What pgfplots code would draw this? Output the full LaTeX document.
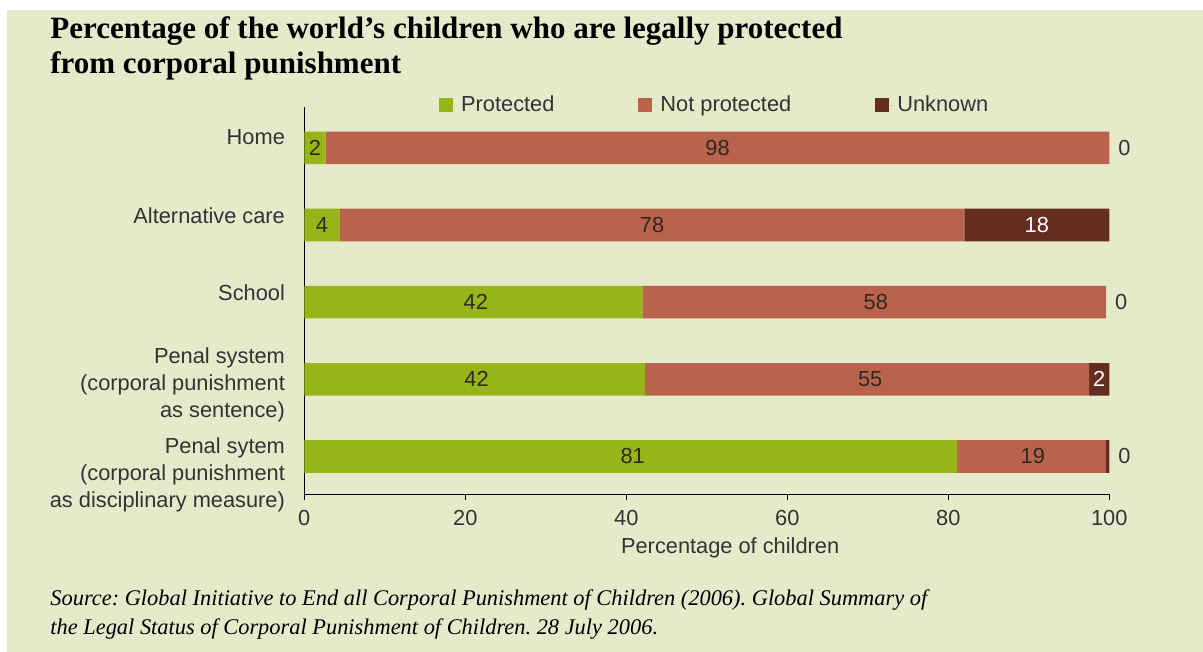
\documentclass[border=0pt]{standalone}
\usepackage{pgfplots}
\pgfplotsset{compat=1.18}
\usepackage{fontspec}
\setmainfont{Liberation Sans}
\newfontfamily\seriffont{Liberation Serif}
\frenchspacing

\definecolor{bg}{HTML}{E5EACB}
\definecolor{prot}{HTML}{97B418}
\definecolor{notprot}{HTML}{B9624C}
\definecolor{unkn}{HTML}{652C22}
\definecolor{txt}{HTML}{333333}
\definecolor{bartxt}{HTML}{2E2A20}

\newcommand{\lblfont}{\fontsize{10.9bp}{13.5bp}\selectfont}

\pgfplotsset{
  frame/.style={
    at={(152.15bp,78.85bp)}, anchor=south west,
    scale only axis, width=402.5bp, height=193.65bp,
    xmin=0, xmax=100, ymin=-0.49, ymax=4.53,
  },
  legsq/.style={legend image code/.code={\fill[##1] (0bp,-3.5bp) rectangle (7bp,3.5bp); \path (0bp,0bp) -- (9bp,0bp);}},
}

\begin{document}
\begin{tikzpicture}
\useasboundingbox (0,0) rectangle (601.5bp,326bp);
\fill[white] (0,0) rectangle (601.5bp,326bp);
\fill[bg] (3.5bp,0) rectangle (601.5bp,321bp);

% title
\node[anchor=base west, inner sep=0, font=\seriffont\bfseries\fontsize{15.5bp}{18bp}\selectfont]
  at (25bp,306.5bp) {Percentage of the world’s children who are legally protected};
\node[anchor=base west, inner sep=0, font=\seriffont\bfseries\fontsize{15.5bp}{18bp}\selectfont]
  at (25bp,289bp) {from corporal punishment};

\begin{axis}[
  frame,
  xbar stacked, bar width=16.3bp,
  axis lines*=left, axis line style={black, line width=0.6bp},
  xtick={0,20,...,100}, ytick={0,...,4},
  tick align=outside, major tick length=3bp,
  xtick style={black, line width=0.6bp},
  ytick style={draw=none},
  tick label style={font=\lblfont, text=txt},
  /pgf/number format/assume math mode=true,
  xticklabel style={inner sep=0pt, yshift=-5bp},
  yticklabel style={inner sep=0pt, anchor=east, xshift=-6.5bp},
  yticklabels={
    {\raisebox{-11.9bp}[0pt][0pt]{\begin{tabular}{@{}r@{}}Penal sytem\hspace{3.5bp}\\(corporal punishment\hspace{3.5bp}\\as disciplinary measure)\end{tabular}}},
    {\raisebox{-5.6bp}[0pt][0pt]{\begin{tabular}{@{}r@{}}Penal system\hspace{3.5bp}\\(corporal punishment\hspace{3.5bp}\\as sentence)\end{tabular}}},
    {\raisebox{1bp}[0pt][0pt]{School}},
    {\raisebox{0.75bp}[0pt][0pt]{Alternative care}},
    {\raisebox{1.75bp}[0pt][0pt]{Home}}
  },
  xlabel={Percentage of children},
  every axis x label/.style={at={(axis description cs:0.529,0)}, anchor=center, yshift=-27bp, font=\lblfont, text=txt},
  legend style={at={(0.511,1.005)}, anchor=center, draw=none, fill=none,
    legend columns=3, font=\lblfont, text=txt, inner sep=0pt,
    /tikz/every even column/.append style={column sep=40bp}},
]
% measured bar lengths, y: 4 = Home ... 0 = last penal row
\addplot[fill=prot, draw=none, legsq] coordinates {(81.1,0) (42.3,1) (42.0,2) (4.43,3) (2.66,4)};
\addlegendentry{Protected}
\addplot[fill=notprot, draw=none, legsq] coordinates {(18.4,0) (55.2,1) (57.6,2) (77.57,3) (97.34,4)};
\addlegendentry{Not protected}
\addplot[fill=unkn, draw=none, legsq] coordinates {(0.5,0) (2.5,1) (0,2) (18.0,3) (0,4)};
\addlegendentry{Unknown}
\end{axis}

% value labels
\begin{axis}[frame, hide axis, clip=false]
\addplot[only marks, mark=none, nodes near coords, point meta=explicit symbolic,
  every node near coord/.append style={anchor=center, font=\lblfont, text=bartxt}]
  coordinates {(1.33,4) [2] (51.33,4) [98]
               (2.2,3) [4] (43.2,3) [78]
               (21.3,2) [42] (71.0,2) [58]
               (21.4,1) [42] (70.3,1) [55]
               (40.8,0) [81] (90.5,0) [19]};
\addplot[only marks, mark=none, nodes near coords, point meta=explicit symbolic,
  every node near coord/.append style={anchor=center, font=\lblfont, text=white}]
  coordinates {(91.0,3) [18] (98.75,1) [2]};
\addplot[only marks, mark=none, nodes near coords, point meta=explicit symbolic,
  every node near coord/.append style={anchor=west, xshift=1bp, font=\lblfont, text=txt}]
  coordinates {(100,4) [0] (99.6,2) [0] (100,0) [0]};
\end{axis}

% source
\node[anchor=base west, inner sep=0, font=\seriffont\itshape\fontsize{11.2bp}{14.5bp}\selectfont]
  at (25bp,23.5bp) {Source: Global Initiative to End all Corporal Punishment of Children (2006). Global Summary of};
\node[anchor=base west, inner sep=0, font=\seriffont\itshape\fontsize{11.2bp}{14.5bp}\selectfont]
  at (25bp,9bp) {the Legal Status of Corporal Punishment of Children. 28 July 2006.};
\end{tikzpicture}
\end{document}
